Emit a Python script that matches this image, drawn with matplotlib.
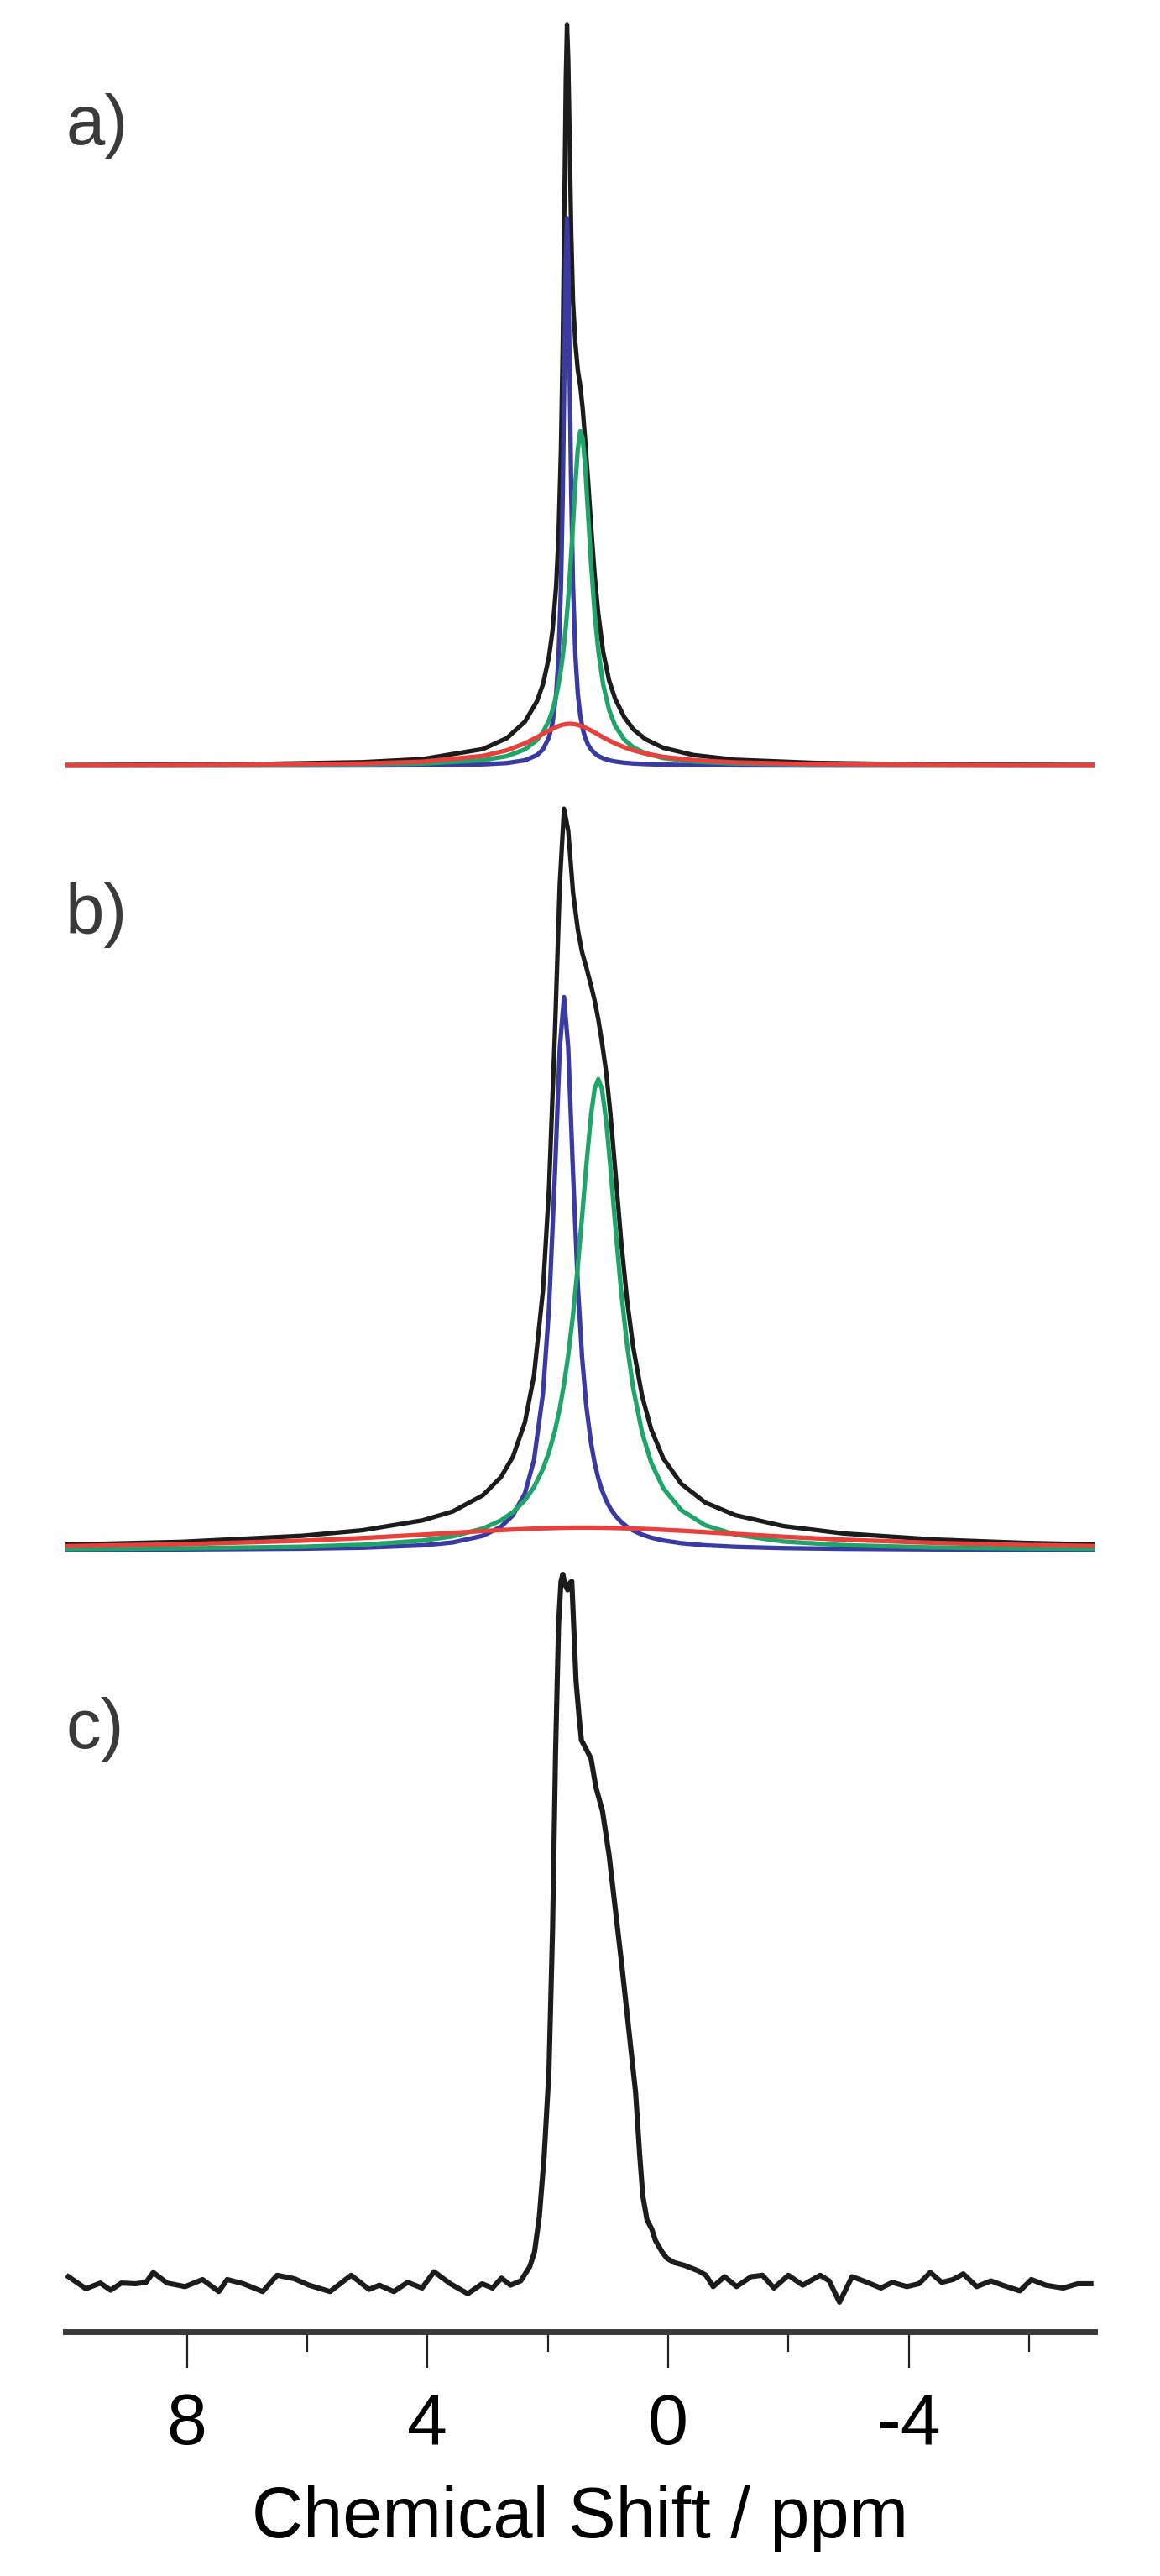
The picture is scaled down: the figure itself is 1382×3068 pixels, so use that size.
import numpy as np
import matplotlib
matplotlib.use("Agg")
import matplotlib.pyplot as plt

plt.rcParams['font.family'] = ['Liberation Sans', 'DejaVu Sans']

# panel a) : fitted components and their envelope (intensity, black peak ~ 1)
ppm_a = [10.08, 7.08, 5.08, 4.08, 3.08, 2.68, 2.38, 2.18, 2.08, 1.98, 1.92, 1.86, 1.82, 1.78,
         1.75, 1.72, 1.70, 1.68, 1.66, 1.64, 1.61, 1.58, 1.54, 1.50, 1.46, 1.42, 1.38, 1.33,
         1.28, 1.22, 1.16, 1.08, 0.98, 0.88, 0.73, 0.58, 0.38, 0.08, -0.42, -1.12, -2.42,
         -4.42, -7.12]
total_a = [0.0008, 0.0019, 0.0046, 0.0087, 0.0218, 0.0362, 0.0578, 0.0847, 0.107, 0.143,
           0.178, 0.237, 0.303, 0.417, 0.5585, 0.763, 0.902, 0.975, 0.93, 0.84, 0.70, 0.61,
           0.555, 0.52, 0.50, 0.47, 0.43, 0.375, 0.315, 0.25, 0.20, 0.15, 0.112, 0.088, 0.064,
           0.048, 0.035, 0.0235, 0.014, 0.0078, 0.0037, 0.0016, 0.0009]
blue_a = [0.0, 0.0001, 0.0003, 0.0006, 0.0018, 0.0035, 0.0071, 0.0138, 0.0214, 0.0372, 0.0564,
          0.0946, 0.144, 0.2368, 0.36, 0.5427, 0.6657, 0.72, 0.6657, 0.5427, 0.36, 0.2368,
          0.144, 0.0946, 0.0662, 0.0487, 0.0372, 0.0277, 0.0214, 0.0163, 0.0128, 0.0097,
          0.0071, 0.0055, 0.0039, 0.0029, 0.0021, 0.0014, 0.0008, 0.0005, 0.0002, 0.0001, 0.0]
green_a = [0.00026, 0.0006, 0.0015, 0.0028, 0.0072, 0.0125, 0.0214, 0.0336, 0.044, 0.0597,
           0.0732, 0.0915, 0.1073, 0.1268, 0.1447, 0.1658, 0.182, 0.2, 0.22, 0.2419, 0.2785,
           0.318, 0.3717, 0.4164, 0.44, 0.4312, 0.396, 0.3316, 0.2659, 0.2, 0.1513, 0.1073,
           0.0732, 0.0526, 0.0345, 0.0242, 0.0163, 0.0101, 0.0055, 0.0029, 0.0013, 0.0006,
           0.0003]
red_a = [0.00049, 0.00116, 0.0028, 0.0053, 0.0128, 0.0202, 0.0293, 0.0373, 0.0418, 0.0462,
         0.0486, 0.0508, 0.0521, 0.0531, 0.0538, 0.0543, 0.0546, 0.0548, 0.055, 0.055, 0.055,
         0.0548, 0.0543, 0.0536, 0.0526, 0.0515, 0.0501, 0.0482, 0.0462, 0.0436, 0.0409,
         0.0373, 0.0331, 0.0293, 0.0243, 0.0202, 0.016, 0.0116, 0.0073, 0.0043, 0.0021,
         0.0009, 0.0005]

# panel b)
ppm_b = [10.08, 8.08, 6.08, 5.08, 4.08, 3.58, 3.08, 2.78, 2.58, 2.38, 2.23, 2.08, 1.98, 1.88,
         1.80, 1.73, 1.66, 1.58, 1.50, 1.43, 1.36, 1.28, 1.22, 1.16, 1.10, 1.03, 0.96, 0.88,
         0.78, 0.68, 0.58, 0.43, 0.28, 0.08, -0.22, -0.62, -1.12, -1.92, -2.92, -4.42, -5.92,
         -7.12]
total_b = [0.0072, 0.0111, 0.0191, 0.0265, 0.0398, 0.0517, 0.0733, 0.0975, 0.1247, 0.1709,
           0.2328, 0.3473, 0.4833, 0.6945, 0.8914, 0.992, 0.9626, 0.88, 0.83, 0.80, 0.78,
           0.755, 0.735, 0.71, 0.68, 0.64, 0.585, 0.51, 0.4134, 0.3334, 0.2716, 0.2057,
           0.1615, 0.1228, 0.0886, 0.0636, 0.0467, 0.0321, 0.0222, 0.0142, 0.0097, 0.0076]
blue_b = [0.00051, 0.00089, 0.0019, 0.0032, 0.0064, 0.0103, 0.0191, 0.0311, 0.0465, 0.076,
          0.12, 0.2096, 0.323, 0.505, 0.672, 0.74, 0.672, 0.505, 0.3536, 0.2587, 0.1933,
          0.1428, 0.1162, 0.096, 0.0804, 0.0665, 0.0558, 0.0465, 0.0377, 0.0311, 0.0261,
          0.0206, 0.0167, 0.0129, 0.0093, 0.0064, 0.0044, 0.0027, 0.0017, 0.00095, 0.0006,
          0.00047]
green_b = [0.0014, 0.0023, 0.00456, 0.00715, 0.0128, 0.0184, 0.0288, 0.0397, 0.0507, 0.0667,
           0.0841, 0.1086, 0.131, 0.16, 0.1897, 0.222, 0.2606, 0.315, 0.3806, 0.4458, 0.5135,
           0.5825, 0.6174, 0.63, 0.6174, 0.5749, 0.5135, 0.4362, 0.3464, 0.2732, 0.2167,
           0.1567, 0.1169, 0.0828, 0.0534, 0.0332, 0.0207, 0.0115, 0.0066, 0.00355, 0.0022,
           0.00166]
red_b = [0.00524, 0.00788, 0.0126, 0.01617, 0.0206, 0.023, 0.0254, 0.0267, 0.0275, 0.0282,
         0.0287, 0.0291, 0.0293, 0.0295, 0.0297, 0.0298, 0.0299, 0.03, 0.03, 0.03, 0.03, 0.03,
         0.03, 0.0299, 0.0299, 0.0298, 0.0297, 0.0295, 0.0293, 0.0291, 0.0288, 0.0284,
         0.0279, 0.0271, 0.0259, 0.024, 0.0216, 0.0179, 0.0139, 0.0097, 0.0069, 0.0055]

# panel c) : measured spectrum
ppm_c = [9.97, 9.68, 9.44, 9.27, 9.09, 8.85, 8.68, 8.56, 8.33, 8.03, 7.74, 7.47, 7.33, 7.06,
         6.74, 6.50, 6.21, 5.97, 5.62, 5.27, 4.97, 4.80, 4.56, 4.33, 4.09, 3.89, 3.62, 3.33,
         3.09, 2.92, 2.77, 2.62, 2.45, 2.30, 2.22, 2.14, 2.06, 1.98, 1.92, 1.87, 1.82, 1.78,
         1.75, 1.71, 1.67, 1.63, 1.60, 1.57, 1.53, 1.48, 1.44, 1.37, 1.28, 1.20, 1.09, 0.98,
         0.77, 0.54, 0.47, 0.42, 0.35, 0.27, 0.21, 0.10, 0.02, -0.10, -0.27, -0.51, -0.63,
         -0.75, -0.94, -1.14, -1.38, -1.57, -1.76, -2.00, -2.24, -2.53, -2.68, -2.85, -3.06,
         -3.25, -3.54, -3.73, -3.97, -4.17, -4.36, -4.55, -4.74, -4.91, -5.13, -5.37, -5.56,
         -5.85, -6.04, -6.28, -6.57, -6.81, -7.03]
int_c = [0.010, -0.007, 0.001, -0.009, 0.001, 0.000, 0.002, 0.016, 0.001, -0.004, 0.006,
         -0.011, 0.006, 0.000, -0.011, 0.012, 0.007, -0.002, -0.011, 0.012, -0.008, -0.002,
         -0.011, 0.002, -0.006, 0.017, 0.000, -0.014, 0.000, -0.006, 0.008, -0.002, 0.004,
         0.024, 0.045, 0.095, 0.18, 0.30, 0.50, 0.75, 0.93, 0.99, 1.0, 0.985, 0.978, 0.988,
         0.99, 0.93, 0.85, 0.80, 0.766, 0.755, 0.74, 0.70, 0.666, 0.604, 0.45, 0.27, 0.18,
         0.124, 0.09, 0.077, 0.061, 0.045, 0.036, 0.030, 0.026, 0.018, 0.012, -0.004, 0.010,
         -0.004, 0.010, 0.012, -0.006, 0.012, -0.002, 0.012, 0.004, -0.026, 0.010, 0.004,
         -0.006, 0.002, -0.004, 0.000, 0.016, 0.002, 0.006, 0.014, -0.004, 0.004, -0.002,
         -0.010, 0.006, -0.002, -0.006, 0.000, 0.000]

major_ticks = [8, 4, 0, -4]
minor_ticks = [6, 2, -2, -6]
tick_labels = ['8', '4', '0', '-4']
panel_labels = ['a)', 'b)', 'c)']

c_black = '#1c1c1c'
c_blue = '#3b3aa3'
c_green = '#1fa56a'
c_red = '#e8403c'

fig = plt.figure(figsize=(13.82, 30.68), dpi=100)
left, width = 0.0564, 0.8871
ax_a = fig.add_axes([left, 0.6969, width, 0.2966])
ax_b = fig.add_axes([left, 0.3937, width, 0.2950])
ax_c = fig.add_axes([left, 0.09485, width, 0.29726])

lw = 3.8
ax_a.plot(ppm_a, total_a, color=c_black, lw=lw)
ax_a.plot(ppm_a, blue_a, color=c_blue, lw=lw)
ax_a.plot(ppm_a, green_a, color=c_green, lw=lw)
ax_a.plot(ppm_a, red_a, color=c_red, lw=lw)
ax_a.set_ylim(-0.0199, 0.985)

ax_b.plot(ppm_b, total_b, color=c_black, lw=lw)
ax_b.plot(ppm_b, blue_b, color=c_blue, lw=lw)
ax_b.plot(ppm_b, green_b, color=c_green, lw=lw)
ax_b.plot(ppm_b, red_b, color=c_red, lw=lw)
ax_b.set_ylim(-0.0157, 1.001)

ax_c.plot(ppm_c, int_c, color=c_black, lw=4.4)
ax_c.set_ylim(-0.0675, 1.0118)

for ax in (ax_a, ax_b, ax_c):
    ax.set_xlim(10.02, -7.09)
    for s in ('top', 'right', 'left'):
        ax.spines[s].set_visible(False)
    ax.set_yticks([])
    ax.patch.set_visible(False)

for ax in (ax_a, ax_b):
    ax.spines['bottom'].set_visible(False)
    ax.set_xticks([])

ax_c.spines['bottom'].set_linewidth(5)
ax_c.spines['bottom'].set_color('#3a3a3a')
ax_c.set_xticks(major_ticks)
ax_c.set_xticklabels(tick_labels)
ax_c.set_xticks(minor_ticks, minor=True)
ax_c.tick_params(axis='x', which='major', direction='out', length=31, width=1.6,
                 color='#222222', labelsize=62, pad=21)
ax_c.tick_params(axis='x', which='minor', direction='out', length=17, width=1.6,
                 color='#222222')
ax_c.set_xlabel('Chemical Shift / ppm', fontsize=61, labelpad=22)

label_y = [1 - 150 / 3068, 1 - 1090 / 3068, 1 - 2060 / 3068]
for lab, yy in zip(panel_labels, label_y):
    fig.text(78 / 1382, yy, lab, fontsize=60, color='#3a3a3a', ha='left', va='center')

fig.savefig('out.png', dpi=100)
